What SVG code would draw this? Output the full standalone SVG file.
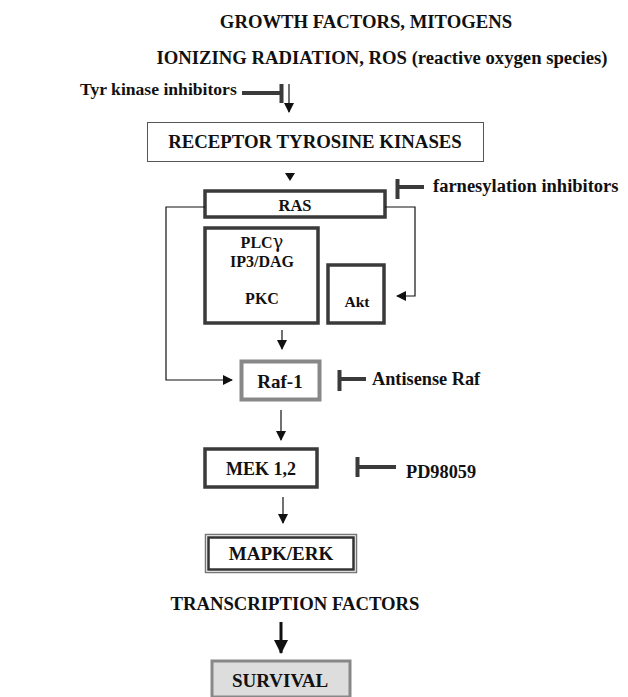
<svg xmlns="http://www.w3.org/2000/svg" width="628" height="697" viewBox="0 0 628 697">
<defs>
<style>
.thin{stroke:#111;stroke-width:1.2;fill:none}
.box{fill:#fff;stroke:#3a3a3a;stroke-width:3.5}
.inh{stroke:#3a3a3a;stroke-width:4;fill:none}
</style>
<marker id="ah" markerWidth="10" markerHeight="10" refX="9" refY="5" orient="auto" markerUnits="userSpaceOnUse">
<path d="M0,0 L10,5 L0,10 z" fill="#111"/>
</marker>
<marker id="ahb" markerWidth="14" markerHeight="14" refX="13" refY="7" orient="auto" markerUnits="userSpaceOnUse">
<path d="M0,0 L14,7 L0,14 z" fill="#111"/>
</marker>
</defs>
<g font-family="'Liberation Serif', 'Times New Roman', serif" font-weight="bold" fill="#111">
<g id="titles" font-size="18.7" text-anchor="middle">
<text x="366" y="28">GROWTH FACTORS, MITOGENS</text>
<text x="382" y="64">IONIZING RADIATION, ROS (reactive oxygen species)</text>
</g>
<g id="tyr-inhibitors">
<text x="80" y="95" font-size="17.6">Tyr kinase inhibitors</text>
</g>
<g id="rtk">
<rect x="147.5" y="122.5" width="336" height="39" fill="#fff" stroke="#555" stroke-width="1"/>
<text x="315" y="148" font-size="18.8" text-anchor="middle">RECEPTOR TYROSINE KINASES</text>
</g>
<g id="ras">
<rect class="box" x="205" y="191" width="180" height="26"/>
<text x="295" y="211" font-size="16.5" text-anchor="middle">RAS</text>
</g>
<g id="farnesylation">
<text x="433" y="192" font-size="18.5">farnesylation inhibitors</text>
</g>
<g id="plc" font-size="16" text-anchor="middle">
<rect class="box" x="205" y="228" width="113" height="95"/>
<text x="262" y="248">PLC<tspan font-family="'DejaVu Serif', serif" font-weight="normal" font-size="18">γ</tspan></text>
<text x="262" y="267">IP3/DAG</text>
<text x="262" y="304">PKC</text>
</g>
<g id="akt">
<rect class="box" x="328" y="265" width="56" height="58"/>
<text x="357" y="307" font-size="15.5" text-anchor="middle">Akt</text>
</g>
<g id="raf">
<rect x="241.5" y="361.5" width="78" height="38" fill="#fff" stroke="#888" stroke-width="4"/>
<text x="280" y="388" font-size="19" text-anchor="middle">Raf-1</text>
</g>
<g id="antisense">
<text x="372" y="385" font-size="18.3">Antisense Raf</text>
</g>
<g id="mek">
<rect class="box" x="205" y="449" width="112" height="38"/>
<text x="261" y="475" font-size="18" text-anchor="middle">MEK 1,2</text>
</g>
<g id="pd">
<text x="406" y="478" font-size="18.3">PD98059</text>
</g>
<g id="mapk">
<rect x="205.5" y="534.5" width="151" height="38" fill="#fff" stroke="#777" stroke-width="1.5"/>
<rect x="208.5" y="537.5" width="145" height="32" fill="#fff" stroke="#333" stroke-width="2.5"/>
<text x="281" y="560" font-size="19" text-anchor="middle">MAPK/ERK</text>
</g>
<g id="tf">
<text x="295" y="610" font-size="18.7" text-anchor="middle">TRANSCRIPTION FACTORS</text>
</g>
<g id="survival">
<rect x="212" y="661" width="138" height="36" fill="#ddd" stroke="#888" stroke-width="3"/>
<text x="280" y="687" font-size="19" text-anchor="middle">SURVIVAL</text>
</g>
</g>
<g id="connectors">
<line class="thin" x1="289" y1="84" x2="289" y2="112" marker-end="url(#ah)"/>
<path class="inh" d="M242,93 H280 M281.5,84 V103"/>
<path d="M285,173 L295,173 L290,181 z" fill="#111"/>
<path class="inh" d="M424,187 H398 M397.5,179 V199"/>
<path class="thin" d="M205,207 H166 V380 H232" marker-end="url(#ah)"/>
<path class="thin" d="M385,207 H415 V296 H397" marker-end="url(#ah)"/>
<line class="thin" x1="282" y1="330" x2="282" y2="349" marker-end="url(#ah)"/>
<path class="inh" d="M366,379 H340 M339.5,370 V391"/>
<line class="thin" x1="281" y1="410" x2="281" y2="440" marker-end="url(#ah)"/>
<path class="inh" d="M396,467 H358 M357.5,457 V477"/>
<line class="thin" x1="283" y1="497" x2="283" y2="523" marker-end="url(#ah)"/>
<line x1="281" y1="622" x2="281" y2="653" stroke="#111" stroke-width="3" marker-end="url(#ahb)"/>
</g>
</svg>
